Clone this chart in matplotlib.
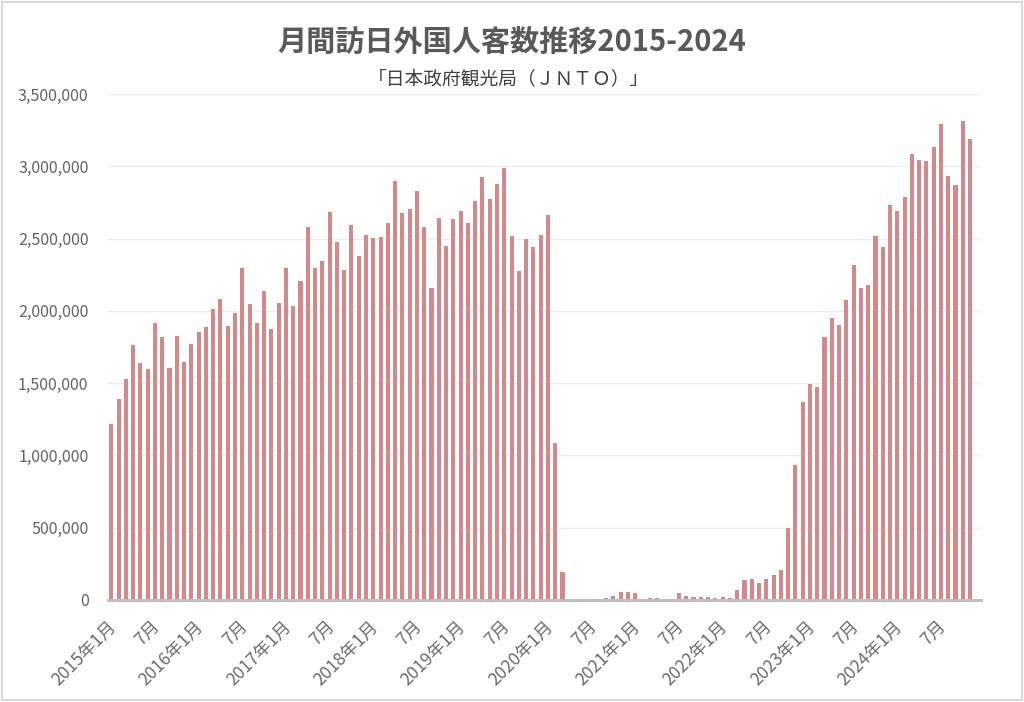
import numpy as np
import matplotlib
matplotlib.use('Agg')
import matplotlib.pyplot as plt
import matplotlib.transforms as mtransforms
from matplotlib.patches import Rectangle
from matplotlib.ticker import FuncFormatter

plt.rcParams['font.family'] = ['Noto Sans CJK JP', 'DejaVu Sans']

#data (monthly visitors, 2015-01 .. 2024-11)------------------------------
y2015 = [1218385, 1387014, 1527430, 1764393, 1642707, 1601022,
         1918356, 1817073, 1607770, 1826573, 1648427, 1773089]
y2016 = [1851895, 1891375, 2009549, 2081697, 1893313, 1985032,
         2296451, 2049234, 1917835, 2135904, 1875400, 2051597]
y2017 = [2295700, 2035800, 2205700, 2578000, 2294700, 2346400,
         2682500, 2478400, 2281500, 2595100, 2378100, 2521400]
y2018 = [2501400, 2509300, 2607900, 2900700, 2675100, 2704600,
         2832000, 2578100, 2159600, 2640600, 2450700, 2632000]
y2019 = [2689339, 2604322, 2760136, 2926685, 2773091, 2880041,
         2991189, 2520134, 2272883, 2496568, 2441274, 2526387]
y2020 = [2661022, 1085147, 193658, 2917, 1663, 2565,
         3782, 8658, 13684, 27386, 56673, 58673]
y2021 = [46455, 7355, 12276, 10849, 10035, 9250,
         51055, 25916, 17719, 22113, 20700, 12084]
y2022 = [17766, 16719, 66121, 139548, 147046, 120430,
         144578, 169902, 206641, 498646, 934500, 1370114]
y2023 = [1497472, 1475455, 1817500, 1949100, 1898900, 2073300,
         2320600, 2158500, 2180400, 2516500, 2440900, 2734000]
y2024 = [2688100, 2788000, 3081600, 3042900, 3040000, 3135600,
         3292500, 2932500, 2872200, 3312000, 3188900]

years = list(range(2015, 2025))
month_labels = []
for yr in years:
    for m in range(1, 13):
        if m == 1:
            month_labels.append('%d年1月' % yr)
        elif m == 7:
            month_labels.append('7月')
        else:
            month_labels.append('')

values = y2015 + y2016 + y2017 + y2018 + y2019 + y2020 + y2021 + y2022 + y2023 + y2024
#-----------------------------

fig = plt.figure(figsize=(10.24, 7.02), dpi=100)
ax = fig.add_axes([108 / 1024, 1 - 600 / 702, (981 - 108) / 1024, (600 - 94) / 702])

x = np.arange(len(values))
ax.bar(x, values, width=0.56, color='#d4888a', zorder=2)

ax.set_xlim(-0.45, 119.5)
ax.set_ylim(0, 3500000)
ax.set_yticks(np.arange(0, 3500001, 500000))
ax.yaxis.set_major_formatter(FuncFormatter(lambda v, p: '{:,.0f}'.format(v)))
ax.grid(axis='y', color='#ececec', linewidth=1, zorder=0)
ax.set_axisbelow(True)

tick_pos = [i for i, t in enumerate(month_labels) if t]
ax.set_xticks(tick_pos)
ax.set_xticklabels([month_labels[i] for i in tick_pos], rotation=45, ha='right',
                   va='top', rotation_mode='anchor', fontsize=12.5, color='#6a6a6a')
ax.tick_params(axis='x', length=0, pad=9)
ax.tick_params(axis='y', length=0, pad=14, labelsize=11.5, labelcolor='#626262')

# nudge the slanted labels a little left and down
shift = mtransforms.ScaledTranslation(-4 / 100, -5 / 100, fig.dpi_scale_trans)
for lbl in ax.get_xticklabels():
    lbl.set_transform(lbl.get_transform() + shift)

for s in ['left', 'right', 'top']:
    ax.spines[s].set_visible(False)
ax.spines['bottom'].set_color('#bfbfbf')
ax.spines['bottom'].set_linewidth(2.2)
ax.spines['bottom'].set_zorder(3)

fig.text(0.5, 1 - 42 / 702, '月間訪日外国人客数推移2015-2024', ha='center', va='center',
         fontsize=21, fontweight='bold', color='#595959')
fig.text(0.496, 1 - 80 / 702, '「日本政府観光局（ＪＮＴＯ）」', ha='center', va='center',
         fontsize=13.5, color='#404040')

# light border round the figure
fig.patches.append(Rectangle((0.002, 0.003), 0.996, 0.994, transform=fig.transFigure,
                             fill=False, edgecolor='#d9d9d9', linewidth=1.5))

plt.savefig('out.png', dpi=100)
